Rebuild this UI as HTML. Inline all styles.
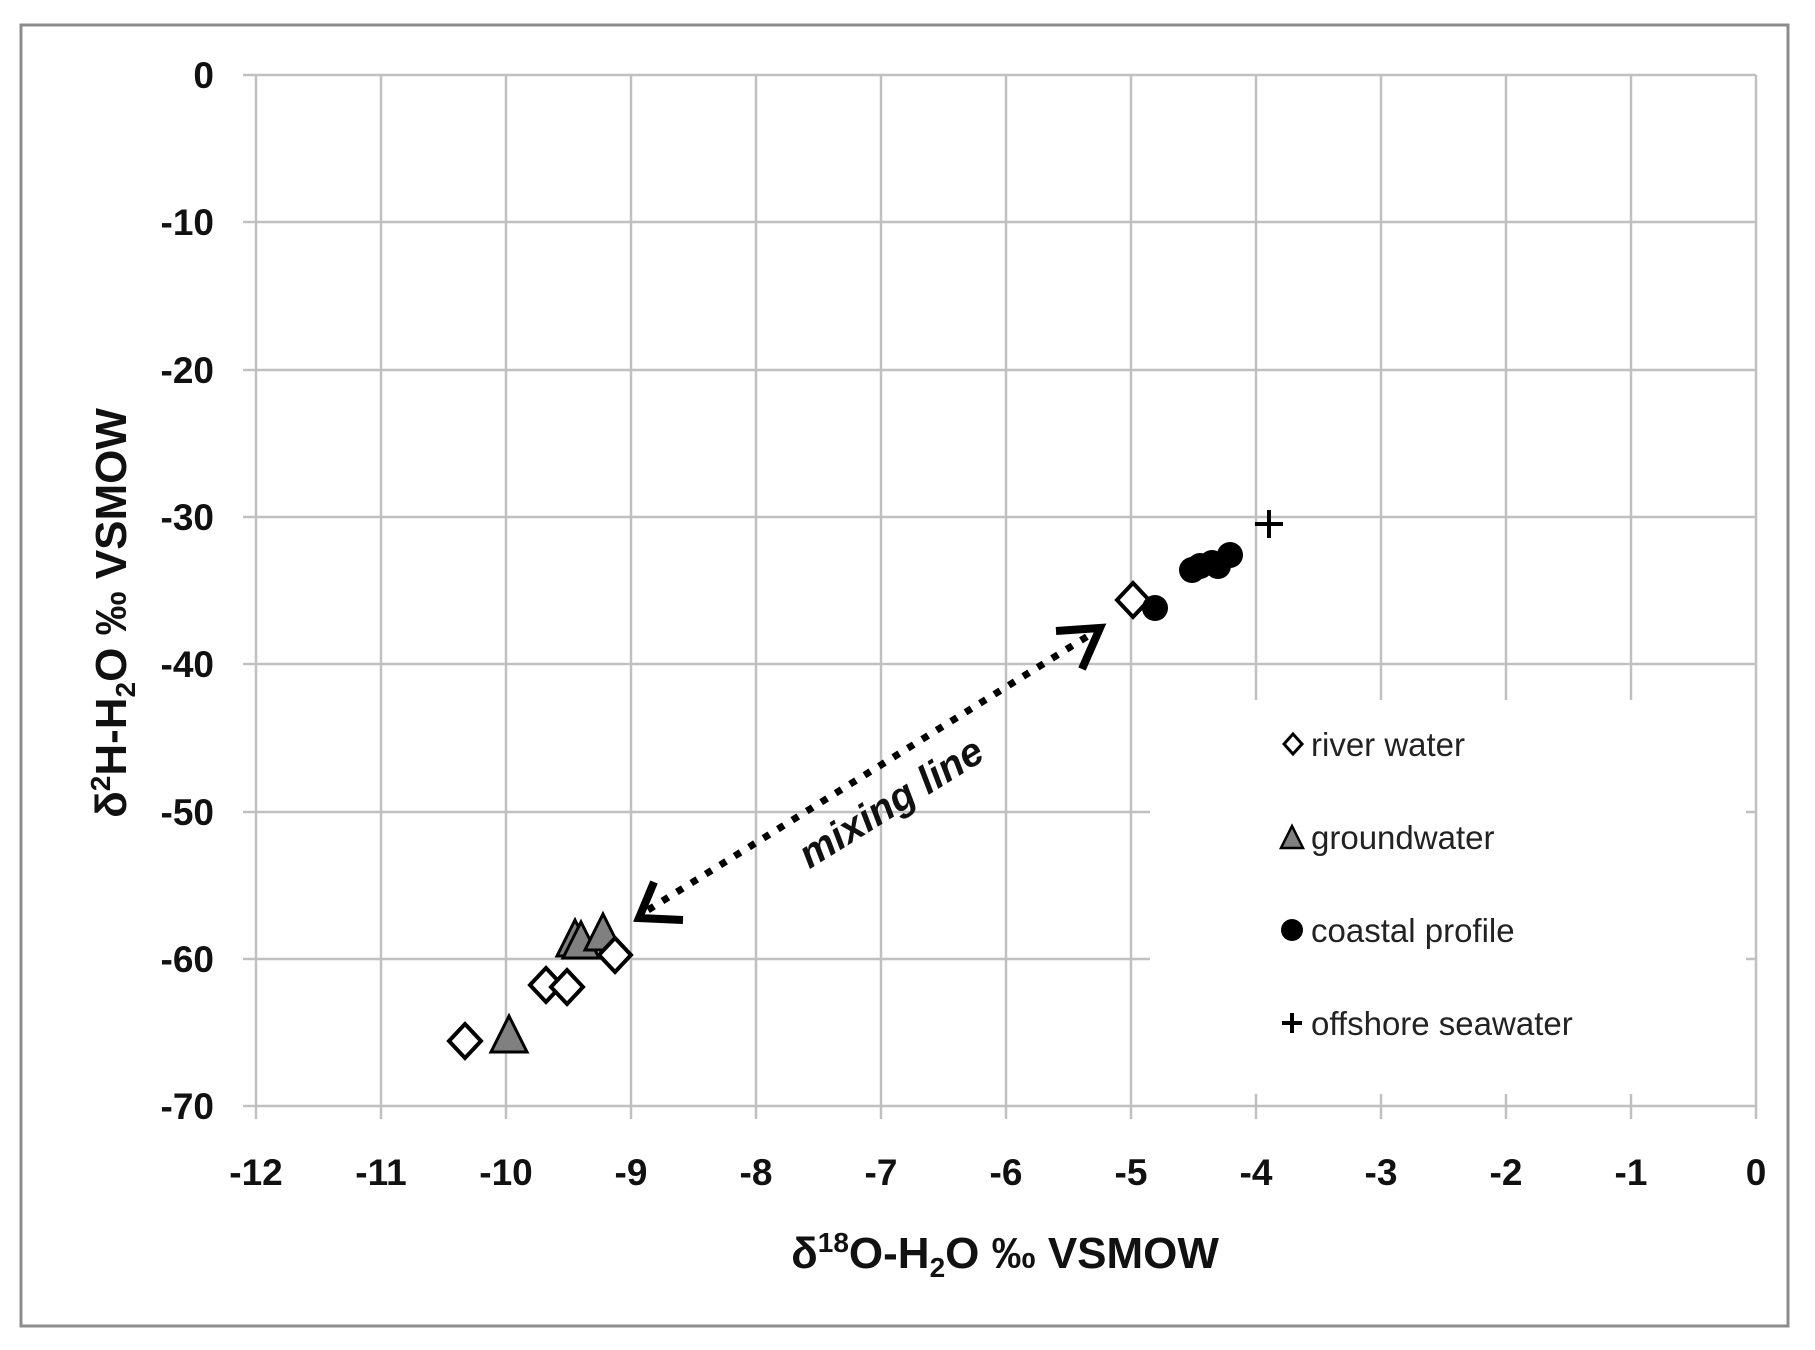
<!DOCTYPE html>
<html><head><meta charset="utf-8"><style>
html,body{margin:0;padding:0;background:#fff}
svg{display:block}
text{font-family:"Liberation Sans",sans-serif}
</style></head><body>
<svg width="1815" height="1350" viewBox="0 0 1815 1350" xmlns="http://www.w3.org/2000/svg">
<rect x="0" y="0" width="1815" height="1350" fill="#fff"/>
<rect x="21" y="25" width="1767" height="1301" fill="#fff" stroke="#8c8c8c" stroke-width="3"/>
<g stroke="#c0c0c0" stroke-width="2.5">
<line x1="256" y1="75" x2="256" y2="1106"/>
<line x1="381" y1="75" x2="381" y2="1106"/>
<line x1="506" y1="75" x2="506" y2="1106"/>
<line x1="631" y1="75" x2="631" y2="1106"/>
<line x1="756" y1="75" x2="756" y2="1106"/>
<line x1="881" y1="75" x2="881" y2="1106"/>
<line x1="1006" y1="75" x2="1006" y2="1106"/>
<line x1="1131" y1="75" x2="1131" y2="1106"/>
<line x1="1256" y1="75" x2="1256" y2="1106"/>
<line x1="1381" y1="75" x2="1381" y2="1106"/>
<line x1="1506" y1="75" x2="1506" y2="1106"/>
<line x1="1631" y1="75" x2="1631" y2="1106"/>
<line x1="1756" y1="75" x2="1756" y2="1106"/>
<line x1="256" y1="75" x2="1756" y2="75"/>
<line x1="256" y1="222" x2="1756" y2="222"/>
<line x1="256" y1="370" x2="1756" y2="370"/>
<line x1="256" y1="517" x2="1756" y2="517"/>
<line x1="256" y1="664" x2="1756" y2="664"/>
<line x1="256" y1="812" x2="1756" y2="812"/>
<line x1="256" y1="959" x2="1756" y2="959"/>
<line x1="256" y1="1106" x2="1756" y2="1106"/>
<line x1="243" y1="75" x2="256" y2="75"/><line x1="243" y1="222" x2="256" y2="222"/><line x1="243" y1="370" x2="256" y2="370"/><line x1="243" y1="517" x2="256" y2="517"/><line x1="243" y1="664" x2="256" y2="664"/><line x1="243" y1="812" x2="256" y2="812"/><line x1="243" y1="959" x2="256" y2="959"/><line x1="243" y1="1106" x2="256" y2="1106"/>
<line x1="256" y1="1106" x2="256" y2="1119"/><line x1="381" y1="1106" x2="381" y2="1119"/><line x1="506" y1="1106" x2="506" y2="1119"/><line x1="631" y1="1106" x2="631" y2="1119"/><line x1="756" y1="1106" x2="756" y2="1119"/><line x1="881" y1="1106" x2="881" y2="1119"/><line x1="1006" y1="1106" x2="1006" y2="1119"/><line x1="1131" y1="1106" x2="1131" y2="1119"/><line x1="1256" y1="1106" x2="1256" y2="1119"/><line x1="1381" y1="1106" x2="1381" y2="1119"/><line x1="1506" y1="1106" x2="1506" y2="1119"/><line x1="1631" y1="1106" x2="1631" y2="1119"/><line x1="1756" y1="1106" x2="1756" y2="1119"/>
</g>
<rect x="1150" y="700" width="596" height="394" fill="#fff"/>
<g font-size="37" font-weight="bold" fill="#111" text-anchor="end">
<text x="214" y="88">0</text><text x="214" y="235">-10</text><text x="214" y="383">-20</text><text x="214" y="530">-30</text><text x="214" y="677">-40</text><text x="214" y="825">-50</text><text x="214" y="972">-60</text><text x="214" y="1119">-70</text>
</g>
<g font-size="37" font-weight="bold" fill="#111" text-anchor="middle">
<text x="256" y="1185">-12</text><text x="381" y="1185">-11</text><text x="506" y="1185">-10</text><text x="631" y="1185">-9</text><text x="756" y="1185">-8</text><text x="881" y="1185">-7</text><text x="1006" y="1185">-6</text><text x="1131" y="1185">-5</text><text x="1256" y="1185">-4</text><text x="1381" y="1185">-3</text><text x="1506" y="1185">-2</text><text x="1631" y="1185">-1</text><text x="1756" y="1185">0</text>
</g>
<text x="1005" y="1268" font-size="44" font-weight="bold" text-anchor="middle" fill="#111">δ<tspan font-size="28" dy="-16">18</tspan><tspan dy="16">O-H</tspan><tspan font-size="28" dy="9">2</tspan><tspan dy="-9">O ‰ VSMOW</tspan></text>
<text transform="translate(126,613) rotate(-90)" font-size="44" font-weight="bold" text-anchor="middle" fill="#111">δ<tspan font-size="28" dy="-16">2</tspan><tspan dy="16">H-H</tspan><tspan font-size="28" dy="9">2</tspan><tspan dy="-9">O ‰ VSMOW</tspan></text>
<line x1="648" y1="910" x2="1088" y2="636" stroke="#000" stroke-width="7" stroke-dasharray="7 10"/>
<polyline points="654,882 639,918 683,920" fill="none" stroke="#000" stroke-width="8"/>
<polyline points="1056,631 1100,628 1082,669" fill="none" stroke="#000" stroke-width="8"/>
<text transform="translate(898,814) rotate(-32)" font-size="40" font-weight="bold" font-style="italic" text-anchor="middle" fill="#111">mixing line</text>
<g fill="#808080" stroke="#000" stroke-width="3">
<polygon points="509,1016 527,1052 491,1052"/>
<polygon points="575,920 593,956 557,956"/>
<polygon points="581,922 599,958 563,958"/>
<polygon points="603,914 621,950 585,950"/>
</g>
<g fill="#fff" stroke="#000" stroke-width="4">
<polygon points="465,1024 481,1041 465,1058 449,1041"/>
<polygon points="546,968 562,985 546,1002 530,985"/>
<polygon points="567,970 583,987 567,1004 551,987"/>
<polygon points="615,938 631,955 615,972 599,955"/>
<polygon points="1133,583 1149,600 1133,617 1117,600"/>
</g>
<g fill="#000">
<circle cx="1155" cy="608" r="13"/>
<circle cx="1192" cy="570" r="13"/>
<circle cx="1200" cy="566" r="13"/>
<circle cx="1212" cy="563" r="13"/>
<circle cx="1218" cy="566" r="13"/>
<circle cx="1230" cy="555" r="13"/>
</g>
<g stroke="#000" stroke-width="4"><line x1="1255" y1="524" x2="1283" y2="524"/><line x1="1269" y1="510" x2="1269" y2="538"/></g>
<polygon points="1293,734 1302,744 1293,754 1284,744" fill="#fff" stroke="#000" stroke-width="3"/>
<polygon points="1292,826 1303,848 1281,848" fill="#808080" stroke="#000" stroke-width="2.5"/>
<circle cx="1292" cy="930" r="11" fill="#000"/>
<g stroke="#000" stroke-width="4"><line x1="1282" y1="1023" x2="1302" y2="1023"/><line x1="1292" y1="1013" x2="1292" y2="1033"/></g>
<g font-size="33" fill="#222">
<text x="1311" y="756">river water</text>
<text x="1311" y="849">groundwater</text>
<text x="1311" y="942">coastal profile</text>
<text x="1311" y="1035">offshore seawater</text>
</g>
</svg>
</body></html>
